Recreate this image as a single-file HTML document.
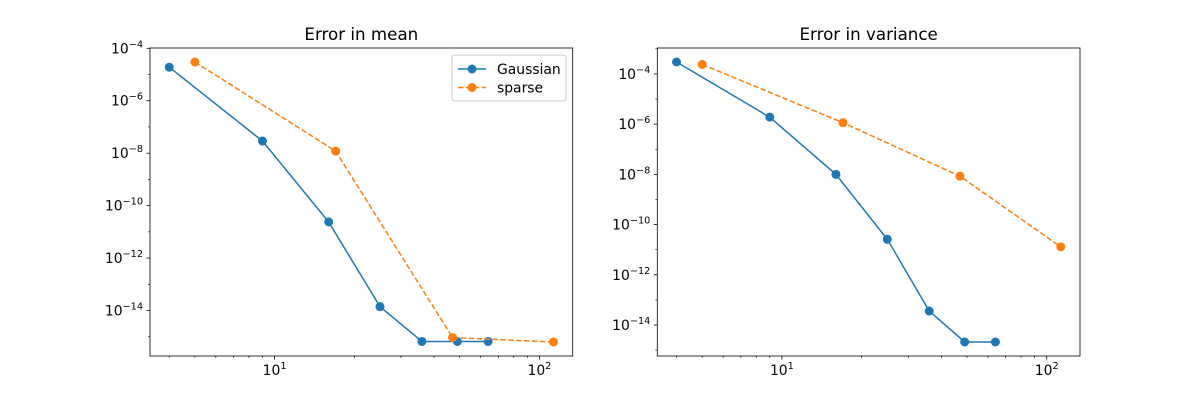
<!DOCTYPE html>
<html><head><meta charset="utf-8"><style>
body{margin:0;background:#fff;}
svg{display:block;font-family:"DejaVu Sans","Liberation Sans",sans-serif;}
</style></head><body>
<svg id="fig" width="1200" height="400"></svg>
<script>
const gaussX = [4, 9, 16, 25, 36, 49, 64];
const sparseX = [5, 17, 47, 113];
const meanGauss = [1.9e-5, 2.9e-8, 2.4e-11, 1.4e-14, 6.6e-16, 6.6e-16, 6.6e-16];
const meanSparse = [3.0e-5, 1.2e-8, 9.3e-16, 6.3e-16];
const varGauss = [3.0e-4, 1.9e-6, 1.0e-8, 2.6e-11, 3.6e-14, 2.1e-15, 2.1e-15];
const varSparse = [2.4e-4, 1.15e-6, 0.85e-8, 1.3e-11];
const xTicks = [1, 2];
const meanYTicks = [-14, -12, -10, -8, -6, -4];
const varYTicks = [-14, -12, -10, -8, -6, -4];

const NS = "http://www.w3.org/2000/svg";
const svg = document.getElementById('fig');
function el(tag, attrs, parent){const e=document.createElementNS(NS,tag);for(const k in attrs)e.setAttribute(k,attrs[k]);(parent||svg).appendChild(e);return e;}

function lims(vals){const l=vals.map(Math.log10);const mn=Math.min(...l),mx=Math.max(...l);const m=(mx-mn)*0.05;return [mn-m,mx+m];}

function panel(x0,x1,title,gY,sY,yTicks,showLegend,name){
  const y0=48,y1=356;
  const g=el('g',{});
  
  
  const xl=lims(gaussX.concat(sparseX));
  const yl=lims(gY.concat(sY));
  const sx=v=>x0+(Math.log10(v)-xl[0])/(xl[1]-xl[0])*(x1-x0);
  const sy=v=>y1-(Math.log10(v)-yl[0])/(yl[1]-yl[0])*(y1-y0);
  for(let d=0;d<=2;d++){for(let k=1;k<10;k++){const v=k*Math.pow(10,d);const px=sx(v);if(px<x0||px>x1)continue;
    const major=k===1;
    const t=el('line',{x1:px,x2:px,y1:y1,y2:y1+(major?3.5:2),stroke:'#000','stroke-width':major?0.8:0.6},g);
    
    
  }}
  xTicks.forEach(p=>{const px=sx(Math.pow(10,p));
    const tx=el('text',{x:px,y:y1+19,'font-size':13.9,'text-anchor':'middle'},g);
    
    
    tx.innerHTML='10<tspan dy="-6" font-size="9.7">'+p+'</tspan>';
  });
  for(let p=Math.ceil(yl[0]);p<=Math.floor(yl[1]);p++){const py=sy(Math.pow(10,p));const major=yTicks.includes(p);
    const t=el('line',{x1:x0-(major?3.5:2),x2:x0,y1:py,y2:py,stroke:'#000','stroke-width':major?0.8:0.6},g);
    
    
  }
  yTicks.forEach(p=>{const py=sy(Math.pow(10,p));
    const tx=el('text',{x:x0-7,y:py+5,'font-size':13.9,'text-anchor':'end'},g);
    
    
    tx.innerHTML='10<tspan dy="-6" font-size="9.7">\u2212'+(-p)+'</tspan>';
  });
  function series(xs,ys,color,dash,sname){
    const pts=xs.map((x,i)=>sx(x)+','+sy(ys[i])).join(' ');
    const pl=el('polyline',{points:pts,fill:'none',stroke:color,'stroke-width':1.5,'stroke-dasharray':dash||''},g);
    
    
    xs.forEach((x,i)=>{const c=el('circle',{cx:sx(x),cy:sy(ys[i]),r:4.5,fill:color},g);
      
      
    });
  }
  series(gaussX,gY,'#1f77b4','','gaussian');
  series(sparseX,sY,'#ff7f0e','5.5,2.4','sparse');
  const fr=el('rect',{x:x0,y:y0,width:x1-x0,height:y1-y0,fill:'none',stroke:'#000','stroke-width':0.8},g);
  
  
  const tt=el('text',{x:(x0+x1)/2,y:y0-8,'font-size':16.7,'text-anchor':'middle'},g);
  
  
  tt.textContent=title;
  if(showLegend){
    const lg=el('g',{},g);
    
    
    el('rect',{x:452,y:55,width:114,height:46,rx:3,fill:'#fff',stroke:'#ccc','stroke-width':1},lg);
    [['Gaussian','#1f77b4',''],['sparse','#ff7f0e','5.5,2.4']].forEach((e,i)=>{
      const y=69+i*18.5;
      const en=el('g',{},lg);
      
      
      el('line',{x1:458,x2:486,y1:y,y2:y,stroke:e[1],'stroke-width':1.5,'stroke-dasharray':e[2]},en);
      el('circle',{cx:472,cy:y,r:4.5,fill:e[1]},en);
      const t=el('text',{x:497,y:y+5,'font-size':13.9},en);
      t.textContent=e[0];
    });
  }
}
panel(150,572.7,'Error in mean',meanGauss,meanSparse,meanYTicks,true,'mean-error-chart');
panel(657.3,1080,'Error in variance',varGauss,varSparse,varYTicks,false,'variance-error-chart');
</script>
</body></html>
